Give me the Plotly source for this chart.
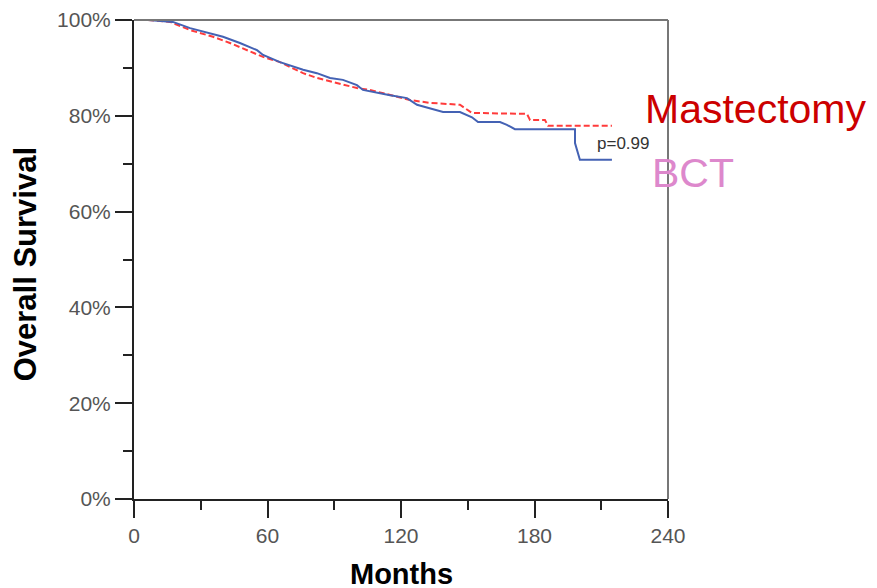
import plotly.graph_objects as go

# Kaplan-Meier estimates (months, % surviving)
bct_months = [6.3, 17.5, 25.2, 34.2, 40.0, 47.6, 55.3, 58.0, 65.6, 76.0, 82.2, 88.1, 93.9,
              100.2, 102.9, 115.1, 122.7, 127.2, 133.0, 138.9, 146.5, 151.9, 154.6, 164.5,
              167.6, 171.2, 198.2, 198.2, 200.4, 214.8]
bct_surv = [100, 99.6, 98.3, 97.3, 96.5, 95.2, 93.7, 92.7, 91.2, 89.6, 88.9, 87.9, 87.5,
            86.4, 85.4, 84.3, 83.7, 82.3, 81.6, 80.8, 80.8, 79.7, 78.7, 78.7,
            78.1, 77.2, 77.2, 74.3, 70.8, 70.8]

mast_months = [6.3, 16.2, 25.2, 35.5, 43.1, 50.8, 58.0, 65.6, 76.0, 82.2, 91.2, 100.2,
               106.1, 118.2, 124.0, 133.0, 146.5, 151.9, 176.6, 178.0, 184.7, 186.1, 214.8]
mast_surv = [100, 99.6, 97.9, 96.5, 95.2, 93.7, 92.3, 91.2, 88.9, 87.9, 86.8, 85.8,
             85.4, 83.9, 83.3, 82.7, 82.3, 80.6, 80.4, 79.1, 79.1, 77.9, 77.9]

x_ticks = [0, 60, 120, 180, 240]
y_ticks = [0, 20, 40, 60, 80, 100]
y_tick_labels = ["0%", "20%", "40%", "60%", "80%", "100%"]
p_text = "p=0.99"

FONT = "Liberation Sans, Arial, sans-serif"

fig = go.Figure()
fig.add_trace(go.Scatter(x=mast_months, y=mast_surv, mode="lines", name="Mastectomy",
                         line=dict(color="#ff3b3b", width=2, dash="6px,3px")))
fig.add_trace(go.Scatter(x=bct_months, y=bct_surv, mode="lines", name="BCT",
                         line=dict(color="#4462b4", width=2)))

tickfont = dict(family=FONT, size=21, color="#555555")

# page body has an 8px margin, so the figure is 8px smaller than the window
fig.update_layout(
    width=869, height=580,
    margin=dict(l=126, r=209, t=12, b=89),
    paper_bgcolor="white", plot_bgcolor="white",
    showlegend=False,
    xaxis=dict(range=[0, 240], tickvals=x_ticks, ticks="outside", ticklen=17, tickwidth=2,
               tickcolor="#222", showline=True, linecolor="#222", linewidth=2,
               showgrid=False, zeroline=False, tickfont=tickfont, automargin=False,
               minor=dict(dtick=30, tick0=0, ticks="outside", ticklen=9, tickwidth=2, tickcolor="#222")),
    yaxis=dict(range=[0, 100], tickvals=y_ticks, ticktext=y_tick_labels, ticks="outside", ticklen=17,
               tickwidth=2, tickcolor="#222", showline=True, linecolor="#222", linewidth=2,
               showgrid=False, zeroline=False, tickfont=tickfont, automargin=False,
               minor=dict(dtick=10, tick0=0, ticks="outside", ticklen=9, tickwidth=2, tickcolor="#222")),
    shapes=[
        dict(type="line", xref="paper", yref="paper", x0=0, x1=1, y0=1, y1=1,
             line=dict(color="#777777", width=2)),
        dict(type="line", xref="paper", yref="paper", x0=1, x1=1, y0=0, y1=1,
             line=dict(color="#777777", width=2)),
    ],
    annotations=[
        dict(x=-0.204, y=0.49, xref="paper", yref="paper", text="<b>Overall Survival</b>",
             textangle=-90, showarrow=False, xanchor="center", yanchor="middle",
             font=dict(family=FONT, size=31, color="#000000")),
        dict(x=0.5, y=-0.156, xref="paper", yref="paper", text="<b>Months</b>",
             showarrow=False, xanchor="center", yanchor="middle",
             font=dict(family=FONT, size=29, color="#000000")),
        dict(x=207, y=74.3, xref="x", yref="y", text=p_text, showarrow=False,
             xanchor="left", yanchor="middle",
             font=dict(family=FONT, size=17, color="#333333")),
        dict(x=228.8, y=81.4, xref="x", yref="y", text="Mastectomy", showarrow=False,
             xanchor="left", yanchor="middle",
             font=dict(family=FONT, size=41, color="#cc0000")),
        dict(x=231.8, y=68.0, xref="x", yref="y", text="BCT", showarrow=False,
             xanchor="left", yanchor="middle",
             font=dict(family=FONT, size=41, color="#dd88cc")),
    ],
)

fig.write_html("out.html")
